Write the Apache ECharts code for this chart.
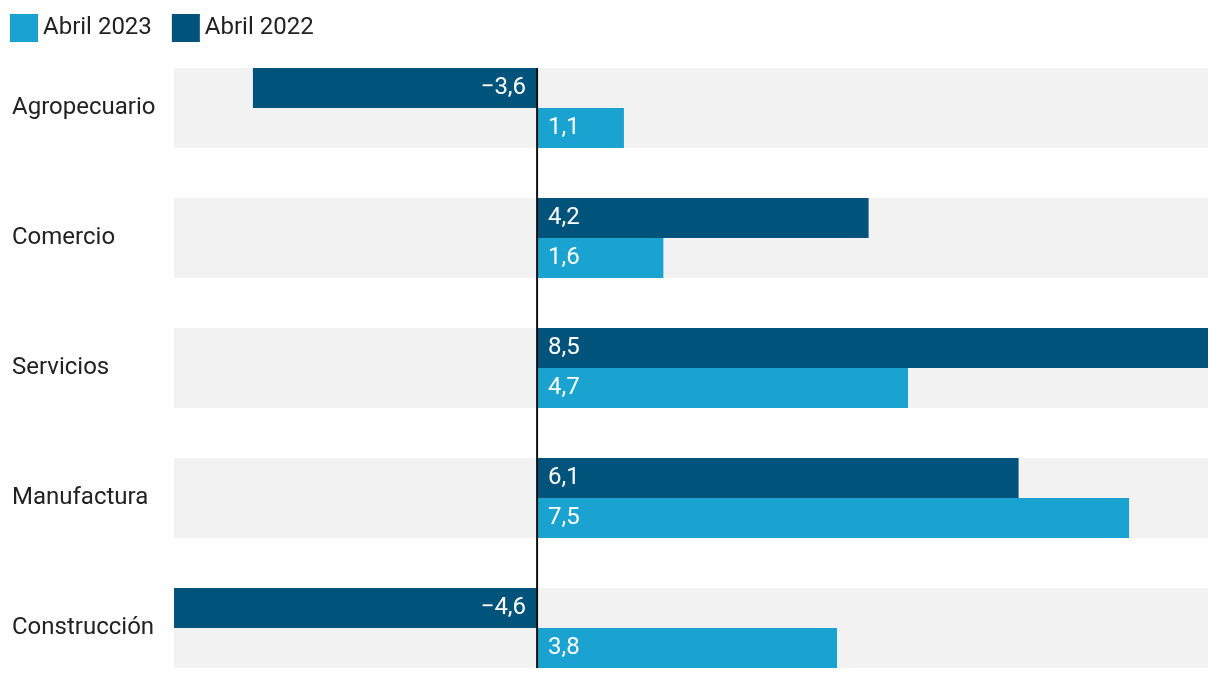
<!DOCTYPE html>
<html>
<head>
<meta charset="utf-8">
<script src="https://cdn.jsdelivr.net/npm/echarts@6/dist/echarts.min.js"></script>
<style>
html,body{margin:0;padding:0;background:#fff;}
#chart{width:1220px;height:680px;}
</style>
</head>
<body>
<div id="chart"></div>
<script>
const categories = ['Agropecuario', 'Comercio', 'Servicios', 'Manufactura', 'Construcción'];
const seriesNames = ['Abril 2023', 'Abril 2022'];
const values2023 = [1.1, 1.6, 4.7, 7.5, 3.8];
const values2022 = [-3.6, 4.2, 8.5, 6.1, -4.6];
const xMin = -4.6;
const xMax = 8.5;

const LIGHT = '#1aa2d0';
const DARK = '#00547b';
const FONT = 'Roboto';
const FS = 24;

function fmt(v) {
  const s = Math.abs(v).toFixed(1).replace('.', ',');
  return (v < 0 ? '\u2212' : '') + s;
}
function barData(arr) {
  return arr.map(v => ({
    value: v,
    label: { position: v < 0 ? 'insideRight' : 'insideLeft' }
  }));
}

const HALF = 40;
const chart = echarts.init(document.getElementById('chart'), null, { renderer: 'canvas' });
chart.setOption({
  animation: false,
  textStyle: { fontFamily: FONT },
  legend: {
    data: seriesNames,
    left: 10, top: 14, padding: 0,
    itemWidth: 28, itemHeight: 28, itemGap: 20,
    icon: 'rect',
    textStyle: { fontSize: FS, color: '#222', fontFamily: FONT }
  },
  grid: { left: 174, right: 12, top: 43, height: 650, outerBoundsMode: 'none', containLabel: false },
  xAxis: {
    type: 'value', min: xMin, max: xMax, show: false,
    splitLine: { show: false }
  },
  yAxis: {
    type: 'category', data: categories, inverse: true,
    axisLine: { show: false }, axisTick: { show: false },
    axisLabel: { align: 'left', margin: 162, fontSize: FS, color: '#222', fontFamily: FONT, padding: [4, 0, 0, 0] }
  },
  series: [
    {
      type: 'custom', name: 'bg', z: 0, silent: true,
      data: categories.map((c, i) => [i]),
      renderItem: function (params, api) {
        const i = api.value(0);
        const p0 = api.coord([xMin, i]);
        const p1 = api.coord([xMax, i]);
        return { type: 'rect', shape: { x: p0[0], y: p0[1] - HALF, width: p1[0] - p0[0], height: HALF * 2 }, style: { fill: '#f2f2f2' } };
      }
    },
    {
      type: 'bar', name: seriesNames[1], data: barData(values2022),
      barWidth: 40, barGap: '0%', itemStyle: { color: DARK }, z: 2,
      label: { show: true, distance: 11, color: '#fff', fontSize: FS, fontFamily: FONT, padding: [4, 0, 0, 0], formatter: p => fmt(p.value) }
    },
    {
      type: 'bar', name: seriesNames[0], data: barData(values2023),
      barWidth: 40, barGap: '0%', itemStyle: { color: LIGHT }, z: 2,
      label: { show: true, distance: 11, color: '#fff', fontSize: FS, fontFamily: FONT, padding: [4, 0, 0, 0], formatter: p => fmt(p.value) }
    },
    {
      type: 'custom', name: 'zero', z: 5, silent: true,
      data: [[0]],
      renderItem: function (params, api) {
        const top = api.coord([0, 0]);
        const bot = api.coord([0, categories.length - 1]);
        return { type: 'line', shape: { x1: top[0], y1: top[1] - HALF, x2: top[0], y2: bot[1] + HALF }, style: { stroke: '#111', lineWidth: 2 } };
      }
    }
  ]
});
</script>
</body>
</html>
